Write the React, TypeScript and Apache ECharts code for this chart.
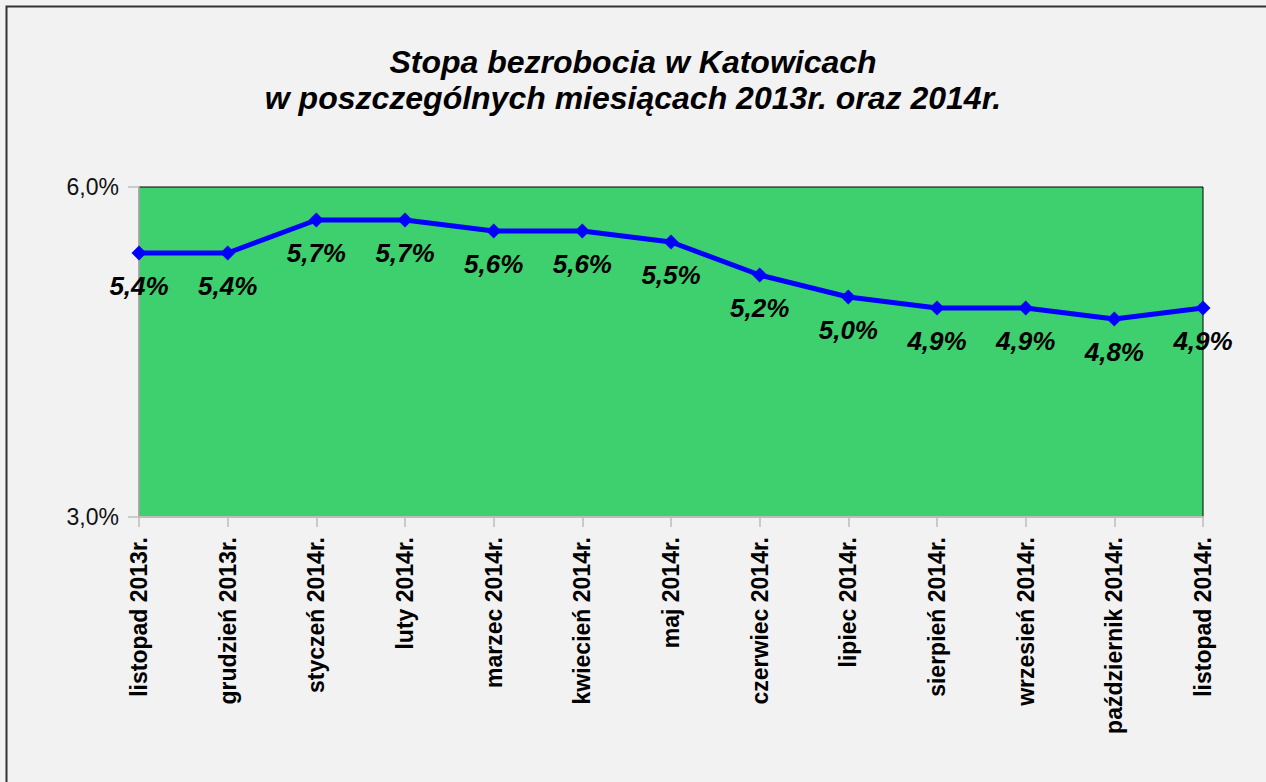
import React, { useEffect, useRef } from "react";
import * as echarts from "echarts";

const categories = [
  "listopad 2013r.",
  "grudzień 2013r.",
  "styczeń 2014r.",
  "luty 2014r.",
  "marzec 2014r.",
  "kwiecień 2014r.",
  "maj 2014r.",
  "czerwiec 2014r.",
  "lipiec 2014r.",
  "sierpień 2014r.",
  "wrzesień 2014r.",
  "październik 2014r.",
  "listopad 2014r.",
];
const rates = [5.4, 5.4, 5.7, 5.7, 5.6, 5.6, 5.5, 5.2, 5.0, 4.9, 4.9, 4.8, 4.9];
const titleLines = ["Stopa bezrobocia w Katowicach", "w poszczególnych miesiącach 2013r. oraz 2014r."];
const yMin = 3;
const yMax = 6;
const yInterval = 3;

const fmt = (v: number) => v.toFixed(1).replace(".", ",") + "%";
const FONT = "Liberation Sans, Arial, sans-serif";

export default function App() {
  const ref = useRef<HTMLDivElement>(null);
  useEffect(() => {
    document.body.style.margin = "0";
    const chart = echarts.init(ref.current!, null, { renderer: "svg" });
    chart.setOption({
      animation: false,
      backgroundColor: "#f2f2f2",
      title: {
        text: titleLines.join("\n"),
        left: "center",
        top: 39,
        textStyle: {
          fontFamily: FONT,
          fontSize: 32,
          fontWeight: "bold",
          fontStyle: "italic",
          color: "#000",
          lineHeight: 36,
        },
      },
      graphic: [
        {
          type: "rect",
          shape: { x: 6.5, y: 6.5, width: 1300, height: 900 },
          style: { fill: "none", stroke: "#333", lineWidth: 2 },
          silent: true,
        },
      ],
      grid: {
        left: 139,
        right: 63,
        top: 187,
        bottom: 265,
        show: true,
        backgroundColor: "#3ecf6f",
        borderColor: "#000",
        borderWidth: 1,
      },
      xAxis: {
        type: "category",
        data: categories,
        boundaryGap: false,
        axisLine: { show: true, lineStyle: { color: "#bdbdbd", width: 2 } },
        axisTick: { show: true, length: 10, lineStyle: { color: "#bdbdbd", width: 1.5 } },
        axisLabel: {
          rotate: 90,
          margin: 20,
          interval: 0,
          fontFamily: FONT,
          fontSize: 23,
          fontWeight: "bold",
          color: "#000",
        },
        splitLine: { show: false },
      },
      yAxis: {
        type: "value",
        min: yMin,
        max: yMax,
        interval: yInterval,
        axisLine: { show: true, lineStyle: { color: "#bdbdbd", width: 1.5 } },
        axisTick: { show: true, length: 11, lineStyle: { color: "#bdbdbd", width: 1.5 } },
        axisLabel: {
          margin: 20,
          formatter: (v: number) => fmt(v),
          fontFamily: FONT,
          fontSize: 23,
          color: "#111",
        },
        splitLine: { show: false },
      },
      series: [
        {
          type: "line",
          data: rates,
          symbol: "diamond",
          symbolSize: 15,
          lineStyle: { color: "#0000ff", width: 5 },
          itemStyle: { color: "#0000ff" },
          label: {
            show: true,
            position: "bottom",
            distance: 12,
            formatter: (p: any) => fmt(p.value),
            fontFamily: FONT,
            fontSize: 26,
            fontWeight: "bold",
            fontStyle: "italic",
            color: "#000",
          },
        },
      ],
    });
    return () => chart.dispose();
  }, []);
  return <div ref={ref} style={{ width: 1266, height: 782 }} />;
}
